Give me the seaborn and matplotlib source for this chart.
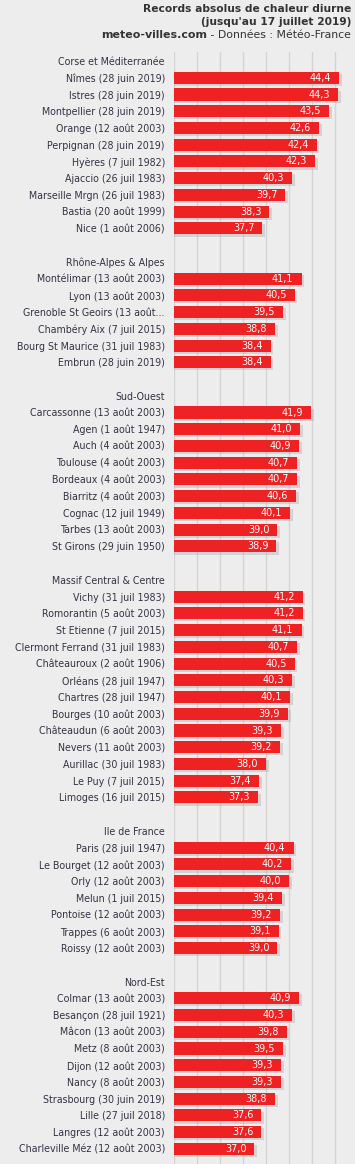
import matplotlib
matplotlib.use("Agg")
import matplotlib.pyplot as plt
import matplotlib.patheffects as pe
import seaborn as sns
import numpy as np
import pandas as pd

# ==========================
# Data
# ==========================

corse_stations = [
    "Nîmes (28 juin 2019)", "Istres (28 juin 2019)", "Montpellier (28 juin 2019)",
    "Orange (12 août 2003)", "Perpignan (28 juin 2019)", "Hyères (7 juil 1982)",
    "Ajaccio (26 juil 1983)", "Marseille Mrgn (26 juil 1983)",
    "Bastia (20 août 1999)", "Nice (1 août 2006)",
]
corse_temps = [44.4, 44.3, 43.5, 42.6, 42.4, 42.3, 40.3, 39.7, 38.3, 37.7]

rhone_stations = [
    "Montélimar (13 août 2003)", "Lyon (13 août 2003)",
    "Grenoble St Geoirs (13 août...", "Chambéry Aix (7 juil 2015)",
    "Bourg St Maurice (31 juil 1983)", "Embrun (28 juin 2019)",
]
rhone_temps = [41.1, 40.5, 39.5, 38.8, 38.4, 38.4]

sudouest_stations = [
    "Carcassonne (13 août 2003)", "Agen (1 août 1947)", "Auch (4 août 2003)",
    "Toulouse (4 août 2003)", "Bordeaux (4 août 2003)", "Biarritz (4 août 2003)",
    "Cognac (12 juil 1949)", "Tarbes (13 août 2003)", "St Girons (29 juin 1950)",
]
sudouest_temps = [41.9, 41.0, 40.9, 40.7, 40.7, 40.6, 40.1, 39.0, 38.9]

centre_stations = [
    "Vichy (31 juil 1983)", "Romorantin (5 août 2003)", "St Etienne (7 juil 2015)",
    "Clermont Ferrand (31 juil 1983)", "Châteauroux (2 août 1906)",
    "Orléans (28 juil 1947)", "Chartres (28 juil 1947)", "Bourges (10 août 2003)",
    "Châteaudun (6 août 2003)", "Nevers (11 août 2003)", "Aurillac (30 juil 1983)",
    "Le Puy (7 juil 2015)", "Limoges (16 juil 2015)",
]
centre_temps = [41.2, 41.2, 41.1, 40.7, 40.5, 40.3, 40.1, 39.9, 39.3, 39.2, 38.0, 37.4, 37.3]

idf_stations = [
    "Paris (28 juil 1947)", "Le Bourget (12 août 2003)", "Orly (12 août 2003)",
    "Melun (1 juil 2015)", "Pontoise (12 août 2003)", "Trappes (6 août 2003)",
    "Roissy (12 août 2003)",
]
idf_temps = [40.4, 40.2, 40.0, 39.4, 39.2, 39.1, 39.0]

nordest_stations = [
    "Colmar (13 août 2003)", "Besançon (28 juil 1921)", "Mâcon (13 août 2003)",
    "Metz (8 août 2003)", "Dijon (12 août 2003)", "Nancy (8 août 2003)",
    "Strasbourg (30 juin 2019)", "Lille (27 juil 2018)", "Langres (12 août 2003)",
    "Charleville Méz (12 août 2003)",
]
nordest_temps = [40.9, 40.3, 39.8, 39.5, 39.3, 39.3, 38.8, 37.6, 37.6, 37.0]

regions = [
    ("Corse et Méditerranée", corse_stations, corse_temps),
    ("Rhône-Alpes & Alpes", rhone_stations, rhone_temps),
    ("Sud-Ouest", sudouest_stations, sudouest_temps),
    ("Massif Central & Centre", centre_stations, centre_temps),
    ("Ile de France", idf_stations, idf_temps),
    ("Nord-Est", nordest_stations, nordest_temps),
]

# build rows: region header, stations, blank spacer
ylabels = []
ypos = []
xvals = []
row = 0
for i, (name, stations, temps) in enumerate(regions):
    ylabels.append(name)
    row += 1
    for s, t in zip(stations, temps):
        ylabels.append(s)
        ypos.append(row)
        xvals.append(t)
        row += 1
    if i < len(regions) - 1:
        ylabels.append("")
        row += 1

df = pd.DataFrame({"row": ypos, "temp": xvals})

# ==========================
# Plot
# ==========================

bg = "#ededed"
red = "#ee2222"
txt = "#333344"

sns.set_theme(style="white")
plt.rcParams["font.family"] = ["DejaVu Sans"]

W, H = 355, 1164
fig = plt.figure(figsize=(W / 100, H / 100), dpi=100)
fig.patch.set_facecolor(bg)

ax = fig.add_axes([174 / W, 0, 1 - 174 / W, 1 - 52 / H])
ax.set_facecolor(bg)

sns.barplot(
    data=df, x="temp", y="row", orient="h", native_scale=True,
    width=0.72, color=red, saturation=1, ax=ax,
)

for bar in ax.patches:
    bar.set_edgecolor("none")
    bar.set_path_effects([
        pe.SimplePatchShadow(offset=(2, -1.5), shadow_rgbFace="#999999", alpha=0.3),
        pe.Normal(),
    ])

for y, t in zip(ypos, xvals):
    ax.annotate(
        f"{t:.1f}".replace(".", ","), xy=(t, y), xytext=(-8, 0),
        textcoords="offset pixels", ha="right", va="center",
        color="white", fontsize=6.9,
    )

ax.set_xlim(30, 45.75)
ax.set_ylim(len(ylabels) - 1 + 0.9, -0.54)
ax.set_xticks(np.arange(30, 46, 2))
ax.set_xticklabels([])
ax.grid(axis="x", color="#d4d4d4", lw=1)
ax.grid(axis="y", visible=False)
ax.set_axisbelow(True)

ax.set_yticks(range(len(ylabels)))
ax.set_yticklabels(ylabels)
ax.tick_params(axis="y", length=0, pad=6.5, labelsize=6.85, labelcolor=txt)
ax.tick_params(axis="x", length=0)
ax.set_xlabel("")
ax.set_ylabel("")
for s in ax.spines.values():
    s.set_visible(False)

# titles
fig.text(351 / W, 1 - 8.5 / H, "Records absolus de chaleur diurne",
         ha="right", va="center", fontsize=7.7, fontweight="bold", color="#333333")
fig.text(351 / W, 1 - 22 / H, "(jusqu'au 17 juillet 2019)",
         ha="right", va="center", fontsize=7.7, fontweight="bold", color="#333333")
src = fig.text(351 / W, 1 - 35 / H, " - Données : Météo-France",
               ha="right", va="center", fontsize=7.8, color="#333333")
ax.annotate("meteo-villes.com", xy=(0, 0.5), xycoords=src, ha="right", va="center",
            fontsize=7.9, fontweight="bold", color="#333333", annotation_clip=False)

fig.savefig("out.png", dpi=100, facecolor=bg)
